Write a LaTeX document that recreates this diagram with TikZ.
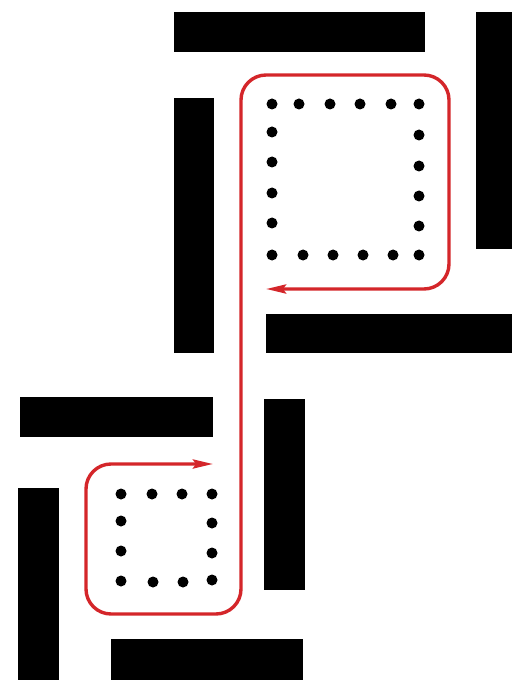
\documentclass[tikz,border=0pt]{standalone}
\usetikzlibrary{arrows.meta}
\definecolor{loopred}{RGB}{212,38,42}
\begin{document}
\begin{tikzpicture}[x=1pt,y=-1pt,
  bar/.style={fill=black},
  dot/.style={fill=black},
  route/.style={draw=loopred,line width=3.4pt,rounded corners=25pt,
    {Stealth[length=20pt,width=9pt,inset=3pt]}-{Stealth[length=20pt,width=9pt,inset=3pt]}}]
\useasboundingbox (0,0) rectangle (512,684);
% bars
\fill[bar] (174,12) rectangle (425,52);
\fill[bar] (476,12) rectangle (512,249);
\fill[bar] (174,98) rectangle (214,353);
\fill[bar] (266,314) rectangle (512,353);
\fill[bar] (20,397) rectangle (213,437);
\fill[bar] (264,399) rectangle (305,590);
\fill[bar] (18,488) rectangle (59,680);
\fill[bar] (111,639) rectangle (303,680);
% top dots
\foreach \x in {272,299,330,360,391,419} \fill[dot] (\x,104) circle (5.5);
\foreach \x in {272,303,333,363,393} \fill[dot] (\x,255) circle (5.5);
\foreach \y in {132,162,193,223} \fill[dot] (272,\y) circle (5.5);
\foreach \y in {135,166,196,226,255} \fill[dot] (419,\y) circle (5.5);
% bottom dots
\foreach \x in {121,152,182,212} \fill[dot] (\x,494) circle (5.5);
\foreach \y in {521,551,581} \fill[dot] (121,\y) circle (5.5);
\foreach \y in {523,553,580} \fill[dot] (212,\y) circle (5.5);
\fill[dot] (153,582) circle (5.5);
\fill[dot] (183,582) circle (5.5);
% route
\coordinate (s) at (213,464);
\coordinate (e) at (266,289);
\draw[route] (s) -- (86,464) -- (86,614) -- (241,614) -- (241,75) -- (449,75) -- (449,289) -- (e);
\end{tikzpicture}
\end{document}
